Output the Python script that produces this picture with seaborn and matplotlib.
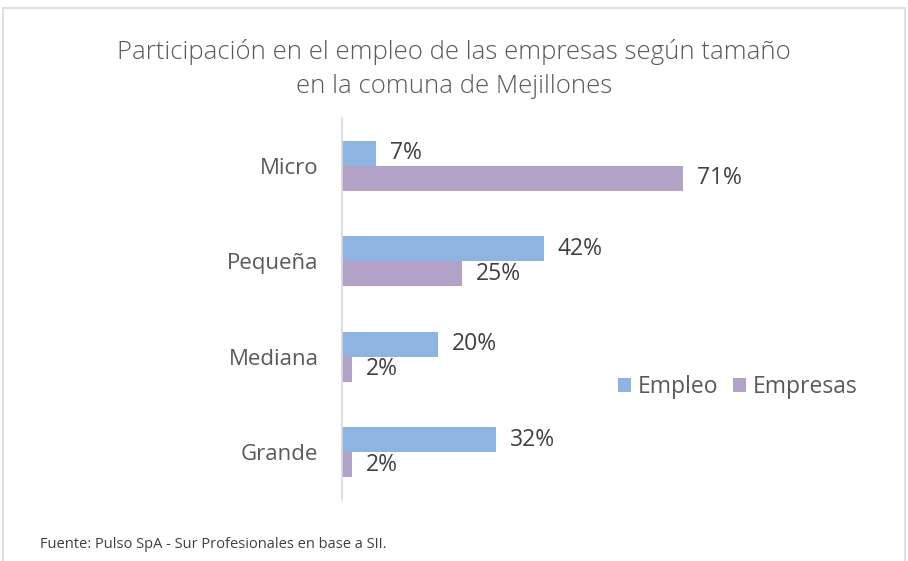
import pandas as pd
import matplotlib.pyplot as plt
import seaborn as sns
from matplotlib.patches import Rectangle

# Data
tamanos = ["Micro", "Pequeña", "Mediana", "Grande"]
empleo = [7, 42, 20, 32]
empresas = [71, 25, 2, 2]
series = ["Empleo", "Empresas"]
colores = ["#8EB4E3", "#B3A2C7"]

titulo = "Participación en el empleo de las empresas según tamaño\nen la comuna de Mejillones"
fuente = "Fuente: Pulso SpA - Sur Profesionales en base a SII."


def main():
    df = pd.DataFrame({
        "tamano": tamanos * 2,
        "valor": empleo + empresas,
        "serie": [series[0]] * len(tamanos) + [series[1]] * len(tamanos),
    })

    sns.set_style("white")
    plt.rcParams["font.family"] = ["Open Sans", "DejaVu Sans"]

    fig = plt.figure(figsize=(9.08, 5.61), dpi=100)
    ax = fig.add_axes([0.3767, 0.1087, 0.4229, 0.681])

    sns.barplot(data=df, x="valor", y="tamano", hue="serie", orient="h",
                palette=colores, saturation=1, width=0.52, ax=ax, legend=True,
                linewidth=0)

    ax.set_xlim(0, 80)
    ax.set_ylim(3.5, -0.5)
    ax.set_xlabel("")
    ax.set_ylabel("")
    ax.set_xticks([])
    ax.tick_params(axis="y", length=0, pad=17, labelsize=16, labelcolor="#595959")
    for s in ["top", "right", "bottom"]:
        ax.spines[s].set_visible(False)
    ax.spines["left"].set_color("#D9D9D9")
    ax.spines["left"].set_linewidth(1.2)

    # Data labels
    for cont in ax.containers:
        vals = [int(round(b.get_width())) for b in cont]
        ax.bar_label(cont, labels=[f"{v}%" for v in vals], padding=10,
                     fontsize=16.5, color="#404040")

    # Legend
    handles, labels = ax.get_legend_handles_labels()
    ax.legend_.remove()
    fig.legend(handles, labels, loc="center left",
               bbox_to_anchor=(597 / 908, 1 - 387 / 561), frameon=False,
               ncol=2, fontsize=16.5, handlelength=0.6, handleheight=0.6,
               columnspacing=0.6, handletextpad=0.3, labelcolor="#595959")

    # Title and source
    fig.text(0.5, 1 - 69 / 561, titulo, ha="center", va="center",
             fontsize=18.5, color="#595959", fontweight="light", linespacing=1.45)
    fig.text(40 / 908, 1 - 545 / 561, fuente, ha="left", va="center",
             fontsize=10.5, color="#404040")

    # Chart border (open at the bottom like the reference)
    fig.patches.append(Rectangle((3 / 908, -0.1), 902 / 908, 1.1 - 8 / 561,
                                 transform=fig.transFigure, fill=False,
                                 edgecolor="#D9D9D9", linewidth=1.2))

    fig.savefig("out.png", dpi=100)


if __name__ == '__main__':
    main()
